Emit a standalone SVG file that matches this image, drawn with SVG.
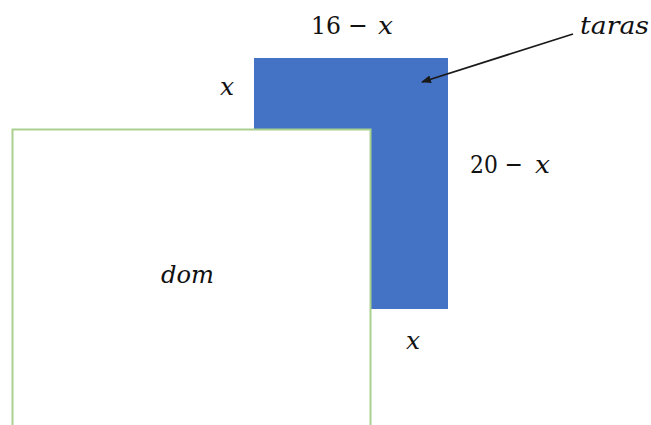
<svg xmlns="http://www.w3.org/2000/svg" width="651" height="425" viewBox="0 0 651 425">
<defs>
<style>
.t{font-family:"DejaVu Serif","Liberation Serif",serif;font-size:25px;fill:#111111}
.i{font-style:italic}
</style>
<marker id="ah" markerWidth="10" markerHeight="8" refX="9" refY="4" orient="auto" markerUnits="userSpaceOnUse">
<path d="M0,0 L10,4 L0,8 z" fill="#1a1a1a"/>
</marker>
</defs>
<rect width="651" height="425" fill="#ffffff"/>
<g id="taras">
<rect x="254" y="58" width="194" height="251" fill="#4472c4"/>
</g>
<g id="dom">
<rect x="12.5" y="129.5" width="358" height="310" fill="#ffffff" stroke="#a9d08e" stroke-width="2"/>
<text class="t i" x="161" y="283" textLength="53" lengthAdjust="spacingAndGlyphs">dom</text>
</g>
<g id="connectors">
<line x1="573" y1="34" x2="422" y2="82" stroke="#1a1a1a" stroke-width="1.8" marker-end="url(#ah)"/>
</g>
<g id="labels">
<text class="t" x="311" y="34" textLength="57" lengthAdjust="spacingAndGlyphs">16 −</text>
<text class="t i" x="378" y="34" textLength="15" lengthAdjust="spacingAndGlyphs">x</text>
<text class="t i" x="580" y="34" textLength="69" lengthAdjust="spacingAndGlyphs">taras</text>
<text class="t i" x="227" y="95" text-anchor="middle">x</text>
<text class="t" x="470" y="173" textLength="53" lengthAdjust="spacingAndGlyphs">20 −</text>
<text class="t i" x="535" y="173" textLength="15" lengthAdjust="spacingAndGlyphs">x</text>
<text class="t i" x="413" y="349" text-anchor="middle">x</text>
</g>
</svg>
